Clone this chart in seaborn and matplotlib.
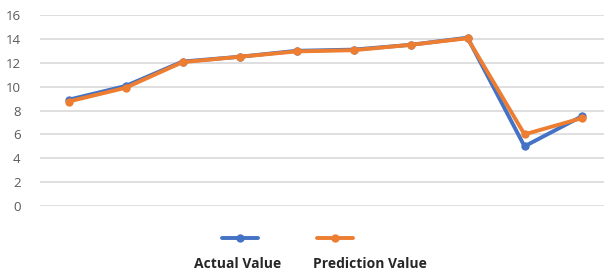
import matplotlib
matplotlib.use("Agg")
import matplotlib.pyplot as plt
import seaborn as sns
import pandas as pd
from matplotlib.lines import Line2D

categories = list(range(1, 11))
actual = [8.9, 10.05, 12.1, 12.5, 13.0, 13.1, 13.5, 14.1, 5.0, 7.5]
prediction = [8.75, 9.9, 12.05, 12.5, 12.95, 13.05, 13.5, 14.05, 6.0, 7.35]
series_names = ["Actual Value", "Prediction Value"]
colors = ["#4472C4", "#ED7D31"]
yticks = [0, 2, 4, 6, 8, 10, 12, 14, 16]

sns.set_theme(style="white")
plt.rcParams["font.family"] = ["Open Sans", "DejaVu Sans"]

W, H = 604, 275
fig = plt.figure(figsize=(W / 100, H / 100), dpi=100)
ax = fig.add_axes([40 / W, 69 / H, 570 / W, 191 / H])

df = pd.DataFrame({
    "cat": categories * 2,
    "value": actual + prediction,
    "series": [series_names[0]] * len(actual) + [series_names[1]] * len(prediction),
})
df["x"] = df["cat"] - 1

sns.lineplot(data=df, x="x", y="value", hue="series", palette=colors,
             marker="o", markersize=6, markeredgewidth=0, linewidth=2.8,
             ax=ax, legend=False, sort=False)

ax.set_xlim(-0.5, len(categories) - 0.5)
ax.set_ylim(0, 16)
ax.set_yticks(yticks)
ax.set_yticklabels([str(t) for t in yticks], color="#595959", fontsize=9.5)
ax.set_xticks([])
ax.set_xlabel("")
ax.set_ylabel("")
ax.grid(axis="y", color="#D9D9D9", linewidth=1.2)
ax.set_axisbelow(True)
for s in ax.spines.values():
    s.set_visible(False)
ax.tick_params(axis="y", length=0, pad=14)

# legend (handle above label)
handles_x = [(222, 258), (317, 353)]
label_cx = [238, 370]
for (x0, x1), cx, c, name in zip(handles_x, label_cx, colors, series_names):
    yh = 1 - 238 / H
    fig.add_artist(Line2D([x0 / W, x1 / W], [yh, yh], transform=fig.transFigure,
                          color=c, linewidth=2.8))
    fig.add_artist(Line2D([(x0 + x1) / 2 / W], [yh], transform=fig.transFigure,
                          color=c, marker="o", markersize=6, markeredgewidth=0))
    fig.text(cx / W, 1 - 264 / H, name, ha="center", va="center",
             fontsize=10, fontweight="bold", color="#262626")

fig.savefig("out.png", dpi=100)
